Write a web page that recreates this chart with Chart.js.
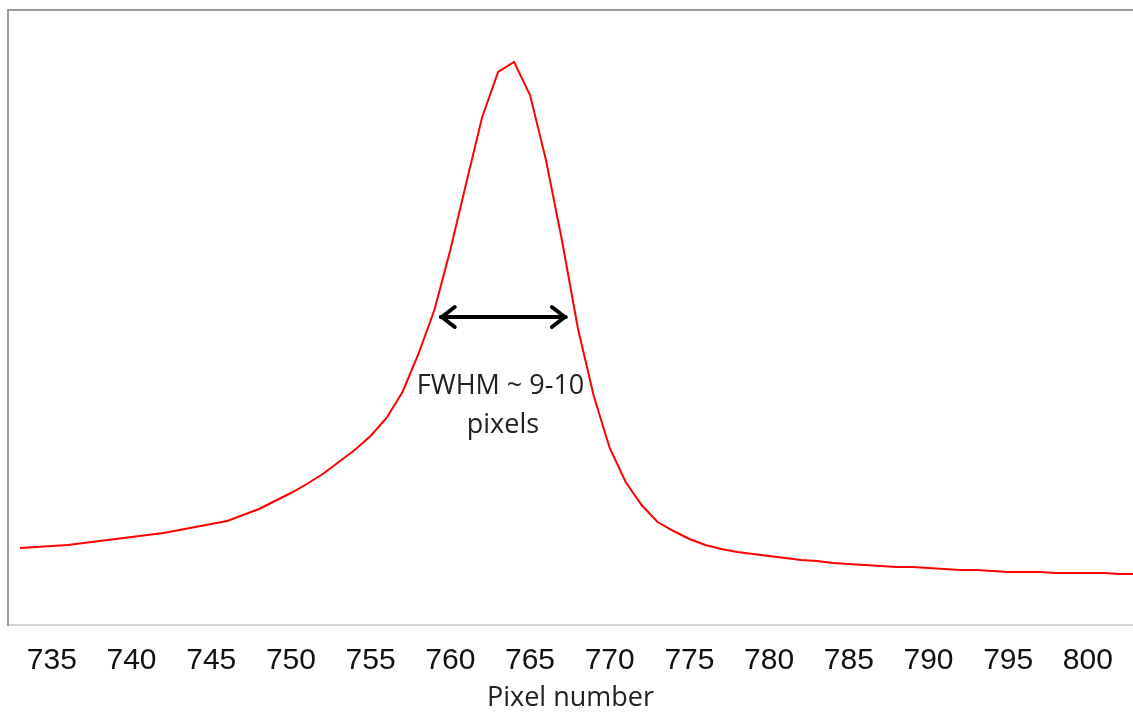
<!DOCTYPE html>
<html>
<head>
<meta charset="utf-8">
<script src="https://cdn.jsdelivr.net/npm/chart.js@4"></script>
<style>
  body { margin: 0; background: #fff; }
</style>
</head>
<body>
<canvas id="peak" width="1133" height="715"></canvas>
<script>
// pixel index along the detector
const pixels = [733, 734, 735, 736, 737, 738, 739, 740, 741, 742, 743, 744, 745, 746, 747, 748, 749, 750,
  751, 752, 753, 754, 755, 756, 757, 758, 759, 760, 761, 762, 763, 764, 765, 766, 767, 768, 769, 770,
  771, 772, 773, 774, 775, 776, 777, 778, 779, 780, 781, 782, 783, 784, 785, 786, 787, 788, 789, 790,
  791, 792, 793, 794, 795, 796, 797, 798, 799, 800, 801, 802, 803];
// intensity (arbitrary units)
const intensity = [77, 78, 79, 80, 82, 84, 86, 88, 90, 92, 95, 98, 101, 104, 110, 116, 124, 132,
  141, 151, 163, 175, 189, 207, 233, 271, 315, 375, 442, 508, 553, 563, 530, 465, 385, 297, 229, 177,
  143, 120, 103, 94, 86, 80, 76, 73, 71, 69, 67, 65, 64, 62, 61, 60, 59, 58, 58, 57,
  56, 55, 55, 54, 53, 53, 53, 52, 52, 52, 52, 51, 51];
const tickValues = [735, 740, 745, 750, 755, 760, 765, 770, 775, 780, 785, 790, 795, 800];

// FWHM marker
const arrowFrom = 759.4;
const arrowTo = 767.25;
const arrowLevel = 308;
const noteLines = ['FWHM ~ 9-10', 'pixels'];
const noteX = [763.15, 763.3];
const noteY = [239, 200];

const fwhmPlugin = {
  id: 'fwhm',
  afterDatasetsDraw(chart) {
    const ctx = chart.ctx;
    const xs = chart.scales.x, ys = chart.scales.y;
    const a = chart.chartArea;
    ctx.save();
    // top frame line
    ctx.strokeStyle = '#9a9a9a';
    ctx.lineWidth = 2;
    ctx.beginPath();
    ctx.moveTo(a.left, a.top);
    ctx.lineTo(a.right, a.top);
    ctx.stroke();

    const x1 = xs.getPixelForValue(arrowFrom);
    const x2 = xs.getPixelForValue(arrowTo);
    const y = ys.getPixelForValue(arrowLevel);
    ctx.strokeStyle = '#000';
    ctx.lineWidth = 4;
    ctx.lineCap = 'round';
    ctx.lineJoin = 'round';
    ctx.beginPath();
    ctx.moveTo(x1, y);
    ctx.lineTo(x2, y);
    ctx.moveTo(x1 + 14, y - 10);
    ctx.lineTo(x1 + 1, y);
    ctx.lineTo(x1 + 14, y + 10);
    ctx.moveTo(x2 - 14, y - 10);
    ctx.lineTo(x2 - 1, y);
    ctx.lineTo(x2 - 14, y + 10);
    ctx.stroke();

    ctx.fillStyle = '#222';
    ctx.font = '27px "Open Sans"';
    ctx.textAlign = 'center';
    ctx.textBaseline = 'middle';
    noteLines.forEach((t, i) => {
      ctx.fillText(t, xs.getPixelForValue(noteX[i]), ys.getPixelForValue(noteY[i]));
    });
    ctx.restore();
  }
};

new Chart(document.getElementById('peak'), {
  type: 'line',
  data: {
    datasets: [{
      data: pixels.map((p, i) => ({ x: p, y: intensity[i] })),
      borderColor: '#ff0000',
      borderWidth: 2,
      pointRadius: 0,
      tension: 0,
      fill: false
    }]
  },
  options: {
    responsive: false,
    animation: false,
    layout: { padding: { top: 10, right: 0, left: 0, bottom: 0 } },
    plugins: {
      legend: { display: false },
      tooltip: { enabled: false }
    },
    scales: {
      x: {
        type: 'linear',
        min: 732.25,
        max: 802.83,
        afterBuildTicks: (scale) => {
          scale.ticks = tickValues.map(v => ({ value: v }));
        },
        afterFit: (scale) => { scale.height = 90; },
        grid: { display: false },
        border: { color: '#d4d4d4', width: 2 },
        ticks: {
          autoSkip: false,
          maxRotation: 0,
          padding: 10,
          color: '#111',
          font: { family: '"Liberation Sans", Arial', size: 30 },
          callback: (v) => String(v)
        },
        title: {
          display: true,
          text: 'Pixel number',
          color: '#222',
          font: { family: '"Open Sans"', size: 27 },
          padding: { top: 3, bottom: 0 }
        }
      },
      y: {
        min: 0,
        max: 615,
        afterFit: (scale) => { scale.width = 8; },
        grid: { display: false },
        border: { color: '#9a9a9a', width: 2 },
        ticks: { display: false }
      }
    }
  },
  plugins: [fwhmPlugin]
});
</script>
</body>
</html>
